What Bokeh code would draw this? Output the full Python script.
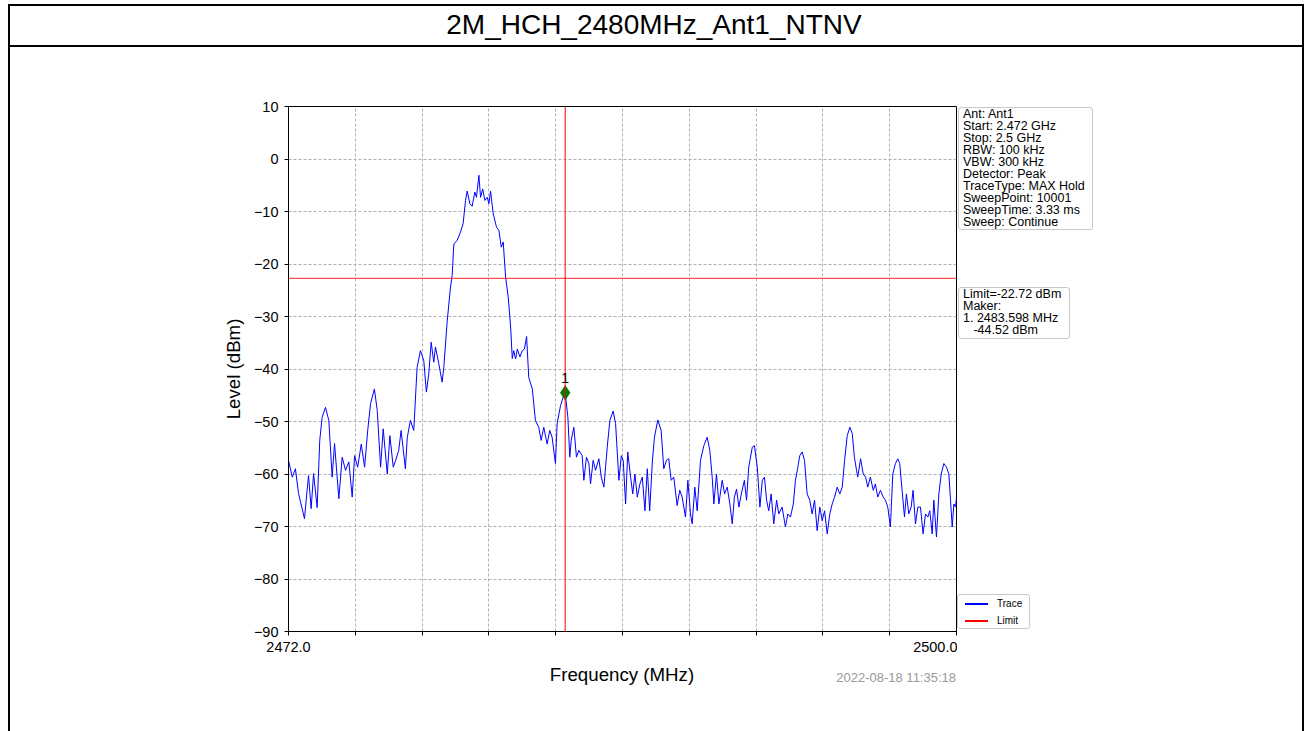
from bokeh.plotting import figure
from bokeh.layouts import column, row
from bokeh.models import Range1d, FixedTicker, Span, Label, Div
from bokeh.embed import file_html
from bokeh.resources import INLINE

# ---------------------------------------------------------------- data
chart_title = "2M_HCH_2480MHz_Ant1_NTNV"
timestamp = "2022-08-18 11:35:18"
x_label = "Frequency (MHz)"
y_label = "Level (dBm)"

freq_mhz = [
    2472.00, 2472.16, 2472.29, 2472.42, 2472.67, 2472.78, 2472.84, 2472.95, 2473.05, 2473.20,
    2473.31, 2473.41, 2473.55, 2473.69, 2473.83, 2473.93, 2474.11, 2474.25, 2474.39, 2474.53,
    2474.67, 2474.77, 2474.90, 2475.05, 2475.19, 2475.32, 2475.44, 2475.60, 2475.72, 2475.86,
    2475.97, 2476.14, 2476.25, 2476.39, 2476.49, 2476.62, 2476.72, 2476.90, 2476.98, 2477.11,
    2477.25, 2477.39, 2477.53, 2477.67, 2477.78, 2477.88, 2477.98, 2478.09, 2478.16, 2478.30,
    2478.44, 2478.51, 2478.65, 2478.79, 2478.86, 2478.93, 2479.07, 2479.21, 2479.32, 2479.42,
    2479.49, 2479.60, 2479.70, 2479.81, 2479.88, 2479.98, 2480.05, 2480.14, 2480.23, 2480.33,
    2480.40, 2480.47, 2480.58, 2480.72, 2480.82, 2480.92, 2481.00, 2481.10, 2481.21, 2481.31,
    2481.38, 2481.44, 2481.52, 2481.59, 2481.70, 2481.80, 2481.89, 2481.98, 2482.07, 2482.22,
    2482.35, 2482.49, 2482.59, 2482.70, 2482.84, 2482.95, 2483.05, 2483.19, 2483.26, 2483.40,
    2483.51, 2483.598, 2483.71, 2483.79, 2483.85, 2483.96, 2484.07, 2484.17, 2484.31, 2484.38,
    2484.49, 2484.59, 2484.66, 2484.77, 2484.87, 2485.01, 2485.11, 2485.22, 2485.36, 2485.47,
    2485.61, 2485.71, 2485.85, 2485.95, 2486.03, 2486.13, 2486.22, 2486.34, 2486.43, 2486.52,
    2486.62, 2486.73, 2486.83, 2486.94, 2487.04, 2487.14, 2487.25, 2487.34, 2487.48, 2487.62,
    2487.73, 2487.84, 2487.94, 2488.04, 2488.15, 2488.29, 2488.40, 2488.50, 2488.64, 2488.74,
    2488.85, 2488.92, 2489.03, 2489.13, 2489.27, 2489.41, 2489.55, 2489.66, 2489.76, 2489.83,
    2489.94, 2490.04, 2490.18, 2490.28, 2490.39, 2490.50, 2490.60, 2490.69, 2490.78, 2490.88,
    2490.98, 2491.11, 2491.20, 2491.29, 2491.44, 2491.53, 2491.65, 2491.76, 2491.86, 2491.95,
    2492.04, 2492.13, 2492.23, 2492.34, 2492.46, 2492.55, 2492.69, 2492.83, 2492.93, 2493.04,
    2493.16, 2493.25, 2493.35, 2493.43, 2493.53, 2493.63, 2493.74, 2493.85, 2493.95, 2494.05,
    2494.16, 2494.27, 2494.37, 2494.47, 2494.58, 2494.69, 2494.79, 2494.89, 2495.00, 2495.11,
    2495.21, 2495.31, 2495.42, 2495.53, 2495.63, 2495.72, 2495.81, 2495.86, 2495.98, 2496.09,
    2496.19, 2496.28, 2496.39, 2496.51, 2496.60, 2496.70, 2496.81, 2496.93, 2497.02, 2497.12,
    2497.23, 2497.33, 2497.44, 2497.54, 2497.62, 2497.72, 2497.82, 2497.90, 2498.00, 2498.10,
    2498.18, 2498.28, 2498.38, 2498.49, 2498.60, 2498.70, 2498.80, 2498.88, 2498.98, 2499.05,
    2499.16, 2499.26, 2499.36, 2499.47, 2499.58, 2499.68, 2499.75, 2499.82, 2499.89, 2499.96,
    2500.00,
]

level_dbm = [
    -57.4, -60.6, -59.0, -63.7, -68.5, -63.1, -60.3, -66.6, -59.9, -66.4,
    -53.6, -49.2, -47.3, -49.8, -60.6, -54.2, -64.7, -56.8, -59.3, -57.7,
    -64.4, -56.5, -58.7, -54.3, -58.7, -51.7, -46.6, -43.8, -47.9, -58.7,
    -51.4, -60.0, -52.7, -58.7, -57.4, -55.5, -51.7, -59.0, -53.0, -49.8,
    -51.7, -39.7, -36.5, -38.4, -44.4, -40.9, -34.9, -38.7, -35.8, -39.0,
    -42.5, -39.7, -31.0, -24.4, -22.2, -16.2, -15.5, -13.9, -12.3, -7.9,
    -6.1, -8.5, -9.0, -6.3, -7.3, -3.1, -7.3, -5.7, -7.9, -7.3,
    -8.5, -6.1, -10.4, -13.0, -13.6, -16.8, -15.8, -22.5, -26.3, -32.0,
    -38.0, -36.5, -38.1, -36.2, -37.7, -36.5, -36.2, -33.8, -41.6, -43.8,
    -49.8, -51.1, -53.6, -51.1, -54.3, -51.7, -53.0, -58.0, -50.4, -47.0,
    -45.4, -44.52, -49.2, -56.8, -53.6, -51.1, -56.8, -55.5, -56.5, -61.2,
    -56.8, -58.0, -61.9, -57.4, -59.3, -57.1, -60.6, -62.5, -54.9, -49.8,
    -48.0, -50.4, -61.2, -56.5, -57.4, -65.7, -55.8, -60.6, -63.8, -60.0,
    -64.4, -61.9, -60.6, -67.0, -59.0, -67.0, -57.7, -53.0, -49.7, -51.7,
    -59.0, -57.4, -57.1, -61.2, -60.6, -66.0, -63.1, -64.4, -68.2, -61.2,
    -67.6, -69.5, -62.5, -67.0, -57.4, -54.6, -53.0, -55.5, -60.6, -65.7,
    -60.0, -65.7, -61.2, -63.8, -62.5, -65.7, -69.5, -64.4, -62.9, -66.3,
    -63.8, -61.2, -65.0, -58.7, -54.9, -54.6, -58.7, -66.3, -61.2, -60.6,
    -65.0, -67.0, -63.8, -69.5, -65.0, -67.6, -66.3, -70.1, -67.6, -68.2,
    -65.7, -61.2, -58.7, -56.5, -55.8, -57.4, -63.8, -65.0, -67.6, -65.0,
    -70.8, -66.3, -68.9, -67.0, -71.4, -67.6, -65.7, -64.4, -62.5, -63.8,
    -62.5, -57.4, -52.7, -51.1, -52.3, -56.8, -59.3, -60.6, -57.1, -60.0,
    -60.6, -62.5, -60.6, -63.1, -61.9, -64.4, -63.1, -64.4, -65.0, -66.3,
    -70.1, -60.0, -58.0, -57.1, -58.0, -63.1, -68.2, -63.8, -67.6, -66.3,
    -63.1, -69.5, -66.3, -66.3, -71.4, -67.6, -68.2, -67.0, -71.4, -65.0,
    -72.0, -63.8, -60.0, -58.0, -58.7, -60.0, -65.0, -70.1, -65.7, -66.3,
    -64.5,
]

limit_dbm = -22.72
marker_freq = 2483.598
marker_level = -44.52

x_ticks = [2472.0, 2474.8, 2477.6, 2480.4, 2483.2, 2486.0,
           2488.8, 2491.6, 2494.4, 2497.2, 2500.0]
x_tick_text = ["2472.0", "", "", "", "", "", "", "", "", "", "2500.0"]
y_ticks = [-90, -80, -70, -60, -50, -40, -30, -20, -10, 0, 10]

info_lines = ["Ant: Ant1", "Start: 2.472 GHz", "Stop: 2.5 GHz", "RBW: 100 kHz",
              "VBW: 300 kHz", "Detector: Peak", "TraceType: MAX Hold",
              "SweepPoint: 10001", "SweepTime: 3.33 ms", "Sweep: Continue"]
marker_lines = [f"Limit={limit_dbm} dBm", "Maker:", f"1. {marker_freq} MHz",
                f"   {marker_level} dBm"]
legend_entries = [("Trace", "#0000ff"), ("Limit", "#ff0000")]

FONT = "Liberation Sans"
CSS_FONT = "'Liberation Sans', Arial, sans-serif"

# ---------------------------------------------------------------- page geometry
PAGE_W, PAGE_H = 1310, 731
HEAD_H = 47                      # title row
LEFT_W = 202                     # blank column left of the chart
PLOT_W, PLOT_H = 755, 618        # chart canvas
RIGHT_W = PAGE_W - LEFT_W - PLOT_W
BODY_H = PAGE_H - HEAD_H
BOTTOM_H = BODY_H - PLOT_H


def rule(left, top, width, height, color="#000"):
    return (f'<div style="position:absolute;left:{left}px;top:{top}px;'
            f'width:{width}px;height:{height}px;background:{color};"></div>')


# ---------------------------------------------------------------- chart
p = figure(width=PLOT_W, height=PLOT_H, output_backend="svg", toolbar_location=None,
           x_range=Range1d(freq_mhz[0], freq_mhz[-1]),
           y_range=Range1d(y_ticks[0], y_ticks[-1]),
           min_border_left=86, min_border_right=1,
           min_border_top=59, min_border_bottom=34)
p.background_fill_color = "white"
p.border_fill_color = "white"
p.outline_line_color = "black"
p.outline_line_width = 1

xa = p.xaxis[0]
xa.ticker = FixedTicker(ticks=x_ticks)
xa.major_label_overrides = {t: s for t, s in zip(x_ticks, x_tick_text)}
ya = p.yaxis[0]
ya.ticker = FixedTicker(ticks=y_ticks)
ya.major_label_overrides = {v: (f"\u2212{abs(v)}" if v < 0 else str(v)) for v in y_ticks}
ya.axis_label = y_label
for ax in (xa, ya):
    ax.axis_line_color = "black"
    ax.major_tick_line_color = "black"
    ax.major_tick_out = 4
    ax.major_tick_in = 0
    ax.minor_tick_line_color = None
    ax.major_label_text_font = FONT
    ax.major_label_text_font_size = "14.5px"
    ax.major_label_text_color = "black"
    ax.axis_label_text_font = FONT
    ax.axis_label_text_font_size = "18.7px"
    ax.axis_label_text_font_style = "normal"
    ax.axis_label_text_color = "black"
xa.major_label_standoff = 6
ya.major_label_standoff = 6
ya.axis_label_standoff = 7

for g in (p.xgrid[0], p.ygrid[0]):
    g.grid_line_color = "#b0b0b0"
    g.grid_line_dash = "3 2"
    g.grid_line_width = 1
p.xgrid[0].ticker = xa.ticker
p.ygrid[0].ticker = ya.ticker

p.line(freq_mhz, level_dbm, line_color=legend_entries[0][1], line_width=1)
p.line([freq_mhz[0], freq_mhz[-1]], [limit_dbm, limit_dbm],
       line_color="#ff2020", line_width=1.3, line_alpha=0.8)
p.add_layout(Span(location=marker_freq, dimension="height",
                  line_color="#ff0000", line_width=1))
p.scatter([marker_freq], [marker_level], marker="diamond", size=14,
          fill_color="#008000", line_color="#008000")
p.add_layout(Label(x=marker_freq, y=marker_level, text="1", y_offset=10,
                   text_align="center", text_baseline="bottom",
                   text_font=FONT, text_font_size="14px", text_color="black"))

# ---------------------------------------------------------------- title row
head_html = (
    f'<div style="position:relative;width:{PAGE_W}px;height:{HEAD_H}px;">'
    + rule(8, 4, 1296, 2) + rule(8, 4, 2, HEAD_H - 4) + rule(1302, 4, 2, HEAD_H - 4)
    + rule(8, 45, 1296, 2)
    + f'<div style="position:absolute;left:0;top:11px;width:{PAGE_W - 2}px;'
      f'text-align:center;font-family:{CSS_FONT};font-size:28px;line-height:28px;'
      f'color:#000;">{chart_title}</div>'
    + '</div>')
head = Div(text=head_html, width=PAGE_W, height=HEAD_H, margin=0)

# left margin with the page frame line
left_html = (f'<div style="position:relative;width:{LEFT_W}px;height:{BODY_H}px;">'
             + rule(8, 0, 2, BODY_H) + '</div>')
left = Div(text=left_html, width=LEFT_W, height=BODY_H, margin=0)

# x-axis caption and time stamp under the chart
bottom_html = (
    f'<div style="position:relative;width:{PLOT_W}px;height:{BOTTOM_H}px;">'
    f'<div style="position:absolute;left:220px;top:0px;width:400px;text-align:center;'
    f'font-family:{CSS_FONT};font-size:18.7px;line-height:20px;color:#000;">{x_label}</div>'
    f'<div style="position:absolute;left:454px;top:6px;width:300px;text-align:right;'
    f'font-family:{CSS_FONT};font-size:13px;line-height:14px;color:#999;">{timestamp}</div>'
    '</div>')
bottom = Div(text=bottom_html, width=PLOT_W, height=BOTTOM_H, margin=0)

# right column: setting box, limit/marker box, legend, page frame line
box_css = ("position:absolute;box-sizing:border-box;border:1px solid #c8c8c8;"
           "border-radius:3px;background:#fff;color:#000;"
           f"font-family:{CSS_FONT};font-size:12.5px;")


def text_box(lines, left, top, width, height, pitch):
    rows = "".join(
        f'<div style="position:absolute;left:4px;top:{i * pitch}px;height:{pitch}px;'
        f'line-height:{pitch}px;white-space:pre;">{t}</div>'
        for i, t in enumerate(lines))
    return (f'<div style="{box_css}left:{left}px;top:{top}px;width:{width}px;'
            f'height:{height}px;"><div style="position:absolute;left:0;top:0;">'
            + rows + '</div></div>')


legend_rows = ""
for i, (name, color) in enumerate(legend_entries):
    y = 557 + i * 17
    legend_rows += (
        f'<div style="position:absolute;left:8px;top:{y - 1}px;width:23px;height:2px;'
        f'background:{color};"></div>'
        f'<div style="position:absolute;left:40px;top:{y - 7}px;font-family:{CSS_FONT};'
        f'font-size:10px;line-height:14px;color:#000;">{name}</div>')

right_html = (
    f'<div style="position:relative;width:{RIGHT_W}px;height:{BODY_H}px;">'
    + text_box(info_lines, 1, 60, 135, 123, 12)
    + text_box(marker_lines, 1, 240, 112, 52, 12)
    + f'<div style="{box_css}left:0px;top:547px;width:73px;height:35px;"></div>'
    + legend_rows
    + rule(345, 0, 2, BODY_H)
    + '</div>')
right = Div(text=right_html, width=RIGHT_W, height=BODY_H, margin=0)

page = column(head, row(left, column(p, bottom, spacing=0), right, spacing=0), spacing=0)

open("out.html", "w").write(file_html(page, INLINE))
